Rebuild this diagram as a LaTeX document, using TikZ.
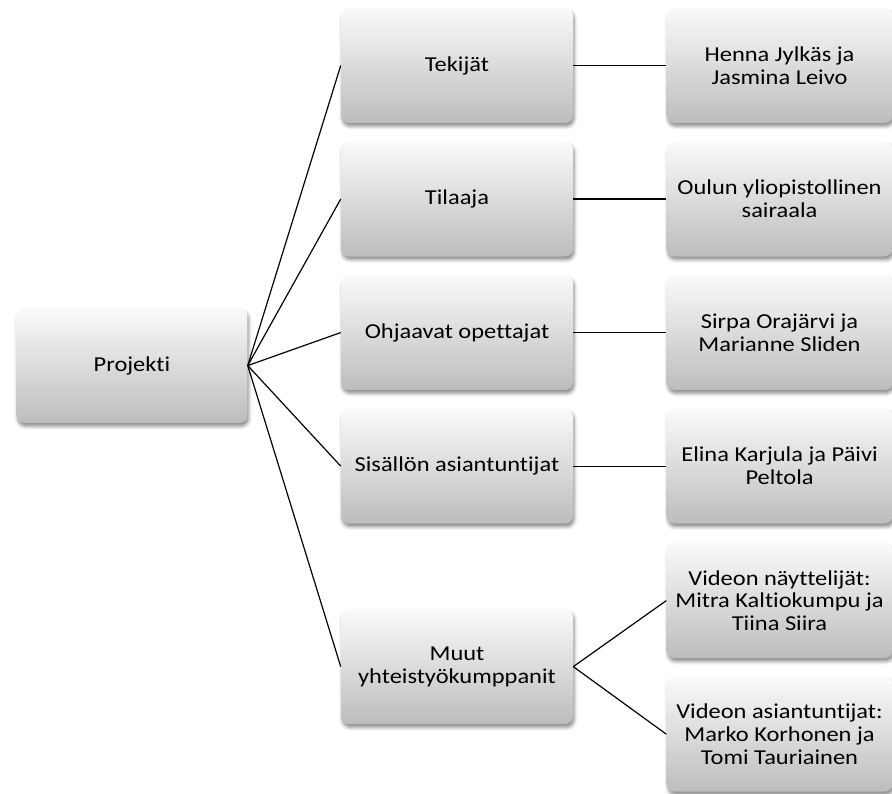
\documentclass[tikz,border=0pt]{standalone}
\usepackage{fontspec}
\setmainfont{Carlito}[Ligatures=NoCommon, FakeStretch=1.15]
\usetikzlibrary{positioning,shadows,shadows.blur}

\begin{document}
\begin{tikzpicture}[x=0.75bp, y=-0.75bp,
box/.style={rectangle, rounded corners=6bp, align=center, minimum width=174bp, minimum height=86.25bp,
	top color=black!2, middle color=black!9, bottom color=black!26, 
	blur shadow={shadow xshift=1bp, shadow yshift=-2.5bp, shadow blur radius=2.5bp, shadow opacity=45},
	font=\fontsize{16}{17.25}\selectfont},
side/.style={box, minimum width=169.5bp},
link/.style={draw, line width=0.9pt}]
\useasboundingbox (0,0) rectangle (892,794);
\node[box] (tekijat) at (457,65.5) {Tekij\"at};
\node[box, below=13.5bp of tekijat] (tilaaja) {Tilaaja};
\node[box, below=13.5bp of tilaaja] (ohjaavat) {Ohjaavat opettajat};
\node[box, below=13.5bp of ohjaavat] (sisallon) {Sis\"all\"on asiantuntijat};
\node[box, below=63.75bp of sisallon] (muut) {Muut\\yhteisty\"okumppanit};
\node[box, minimum width=173.25bp, left=69.75bp of ohjaavat, yshift=-24.75bp] (projekti) {Projekti};
% tekijat ja yhteystahot
\node[side, right=69.75bp of tekijat] (henna) {Henna Jylk\"as ja\\Jasmina Leivo};
\node[side, right=69.75bp of tilaaja] (oulun) {Oulun yliopistollinen\\sairaala};
\node[side, right=69.75bp of ohjaavat] (sirpa) {Sirpa Oraj\"arvi ja\\Marianne Sliden};
\node[side, right=69.75bp of sisallon] (elina) {Elina Karjula ja P\"aivi\\Peltola};
\node[side, right=69.75bp of muut, yshift=49.5bp] (nayttelijat) {Videon n\"ayttelij\"at:\\Mitra Kaltiokumpu ja\\Tiina Siira};
\node[side, below=13.5bp of nayttelijat] (videoasiat) {Videon asiantuntijat:\\Marko Korhonen ja\\Tomi Tauriainen};
\foreach \n in {tekijat,tilaaja,ohjaavat,sisallon,muut}
	\draw[link] (projekti.east) -- (\n.west);
\draw[link] (tekijat) -- (henna);
\draw[link] (tilaaja) -- (oulun);
\draw[link] (ohjaavat) -- (sirpa);
\draw[link] (sisallon) -- (elina);
\draw[link] (muut.east) -- (nayttelijat.west);
\draw[link] (muut.east) -- (videoasiat.west);
\end{tikzpicture}
\end{document}
